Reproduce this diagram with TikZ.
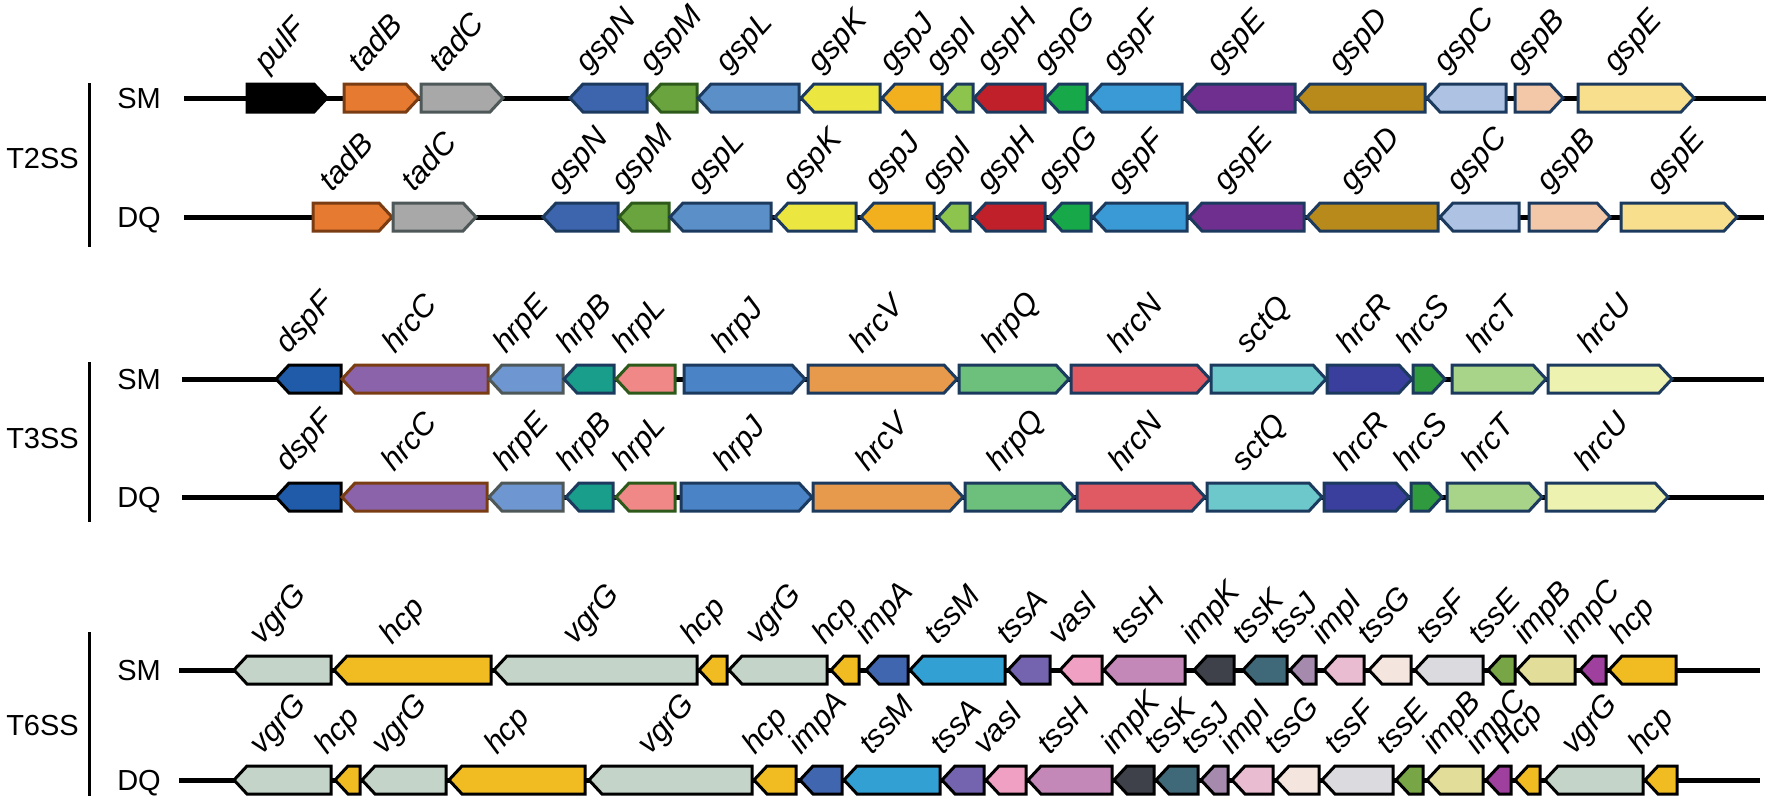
\documentclass[tikz,border=0pt]{standalone}
\usepackage{fontspec}
\setmainfont{Liberation Sans}
\usepackage{xcolor}

% outline colours
\definecolor{navy}{HTML}{1C3A5E}
\definecolor{brn}{HTML}{7A3C12}
\definecolor{dgrey}{HTML}{4E5858}
\definecolor{dgreen}{HTML}{2D5A1A}
% T2SS fills
\definecolor{pulFc}{HTML}{000000}
\definecolor{tadBc}{HTML}{E67A30}
\definecolor{tadCc}{HTML}{A8A8A8}
\definecolor{gspNc}{HTML}{3D65AD}
\definecolor{gspMc}{HTML}{6AA43F}
\definecolor{gspLc}{HTML}{5A8FC8}
\definecolor{gspKc}{HTML}{ECE640}
\definecolor{gspJc}{HTML}{F2B01E}
\definecolor{gspIc}{HTML}{8CC44E}
\definecolor{gspHc}{HTML}{C0202A}
\definecolor{gspGc}{HTML}{17A84A}
\definecolor{gspFc}{HTML}{3A9AD6}
\definecolor{gspEc}{HTML}{6E2F8E}
\definecolor{gspDc}{HTML}{B88A1C}
\definecolor{gspCc}{HTML}{AEC3E4}
\definecolor{gspBc}{HTML}{F2C8A8}
\definecolor{gspEbc}{HTML}{F8DF8E}
% T3SS fills
\definecolor{dspFc}{HTML}{1F5BA8}
\definecolor{hrcCc}{HTML}{8B63AB}
\definecolor{hrpEc}{HTML}{6E96D0}
\definecolor{hrpBc}{HTML}{1A9E8C}
\definecolor{hrpLc}{HTML}{F08888}
\definecolor{hrpJc}{HTML}{4A84C6}
\definecolor{hrcVc}{HTML}{E89A4C}
\definecolor{hrpQc}{HTML}{6CC07C}
\definecolor{hrcNc}{HTML}{E05A64}
\definecolor{sctQc}{HTML}{6CC8CA}
\definecolor{hrcRc}{HTML}{3A3F9E}
\definecolor{hrcSc}{HTML}{2F9A3E}
\definecolor{hrcTc}{HTML}{A8D48A}
\definecolor{hrcUc}{HTML}{EEF2B0}
% T6SS fills
\definecolor{vgrGc}{HTML}{C4D4C8}
\definecolor{hcpc}{HTML}{F0BC22}
\definecolor{impAc}{HTML}{4166B0}
\definecolor{tssMc}{HTML}{33A0D4}
\definecolor{tssAc}{HTML}{7464B0}
\definecolor{vasIc}{HTML}{F0A0C2}
\definecolor{tssHc}{HTML}{C488B8}
\definecolor{impKc}{HTML}{3E404A}
\definecolor{tssKc}{HTML}{3F6878}
\definecolor{tssJc}{HTML}{A68AAE}
\definecolor{impIc}{HTML}{EABCD2}
\definecolor{tssGc}{HTML}{F4E6DE}
\definecolor{tssFc}{HTML}{DADADF}
\definecolor{tssEc}{HTML}{78A646}
\definecolor{impBc}{HTML}{E2DE9A}
\definecolor{impCc}{HTML}{A0409E}

\tikzset{
  backbone/.style={line width=5pt, black},
  genebox/.style={line width=3pt, line join=miter},
  genelab/.style={rotate=48, anchor=base west, inner sep=0pt,
    font=\fontsize{31}{31}\selectfont\itshape},
  strain/.style={anchor=base, inner sep=0pt, font=\fontsize{29}{29}\selectfont},
  sysbar/.style={line width=3pt, black}
}

% backbone of one locus: name, y, start, end
\newcommand{\locus}[4]{%
  \coordinate (#1-a) at (#3,#2);
  \coordinate (#1-b) at (#4,#2);
  \draw[backbone] (#1-a) -- (#1-b);}

% genes of one locus: name, y, tail/head/fill/outline/label list
\newcommand{\genes}[3]{%
  \foreach \xa/\xb/\cf/\cd/\lab [count=\i] in {#3}{%
    \filldraw[genebox, fill=\cf, draw=\cd]
      (\xa,#2+14) -- ({\xb-13*sign(\xb-\xa)},#2+14) -- (\xb,#2)
      -- ({\xb-13*sign(\xb-\xa)},#2-14) -- (\xa,#2-14) -- cycle;
    \node[genelab] (#1-\i) at ({(\xa+\xb)/2-20},#2+24) {\lab};
  }}

\begin{document}
\begin{tikzpicture}[x=1pt,y=1pt]
\useasboundingbox (0,0) rectangle (1775,-806);

%% T2SS
\node[strain, anchor=base east] (t2) at (79,-168) {T2SS};
\draw[sysbar] (89,-83) -- (89,-247);
\node[strain] (t2sm) at (139,-108) {SM};
\node[strain] (t2dq) at (139,-227) {DQ};
\locus{t2s}{-98}{184}{1766}
\genes{t2s}{-98}{247/327/pulFc/black/pulF, 344/419/tadBc/brn/tadB,
  421/503/tadCc/dgrey/tadC, 647/570/gspNc/navy/gspN, 697/648/gspMc/dgreen/gspM,
  799/698/gspLc/navy/gspL, 880/801/gspKc/navy/gspK, 942/882/gspJc/navy/gspJ,
  973/944/gspIc/navy/gspI, 1045/974/gspHc/navy/gspH, 1087/1046/gspGc/navy/gspG,
  1182/1089/gspFc/navy/gspF, 1295/1184/gspEc/navy/gspE, 1425/1297/gspDc/navy/gspD,
  1506/1427/gspCc/navy/gspC, 1515/1563/gspBc/navy/gspB, 1578/1694/gspEbc/navy/gspE}
\locus{t2d}{-217}{184}{1764}
\genes{t2d}{-217}{313/392/tadBc/brn/tadB, 393/476/tadCc/dgrey/tadC,
  618/543/gspNc/navy/gspN, 669/619/gspMc/dgreen/gspM, 771/670/gspLc/navy/gspL,
  856/775/gspKc/navy/gspK, 934/861/gspJc/navy/gspJ, 970/938/gspIc/navy/gspI,
  1045/973/gspHc/navy/gspH, 1091/1049/gspGc/navy/gspG, 1187/1093/gspFc/navy/gspF,
  1304/1189/gspEc/navy/gspE, 1438/1307/gspDc/navy/gspD, 1519/1440/gspCc/navy/gspC,
  1529/1610/gspBc/navy/gspB, 1621/1737/gspEbc/navy/gspE}

%% T3SS
\node[strain, anchor=base east] (t3) at (79,-448) {T3SS};
\draw[sysbar] (89,-362) -- (89,-522);
\node[strain] (t3sm) at (139,-389) {SM};
\node[strain] (t3dq) at (139,-507) {DQ};
\locus{t3s}{-379}{182}{1764}
\genes{t3s}{-379}{341/276/dspFc/black/dspF, 488/342/hrcCc/brn/hrcC,
  563/489/hrpEc/dgrey/hrpE, 614/564/hrpBc/navy/hrpB, 675/616/hrpLc/dgreen/hrpL,
  684/805/hrpJc/navy/hrpJ, 808/957/hrcVc/navy/hrcV, 959/1069/hrpQc/navy/hrpQ,
  1071/1210/hrcNc/navy/hrcN, 1211/1326/sctQc/navy/sctQ, 1327/1412/hrcRc/navy/hrcR,
  1413/1445/hrcSc/navy/hrcS, 1452/1546/hrcTc/navy/hrcT, 1548/1672/hrcUc/navy/hrcU}
\locus{t3d}{-497}{182}{1764}
\genes{t3d}{-497}{341/276/dspFc/black/dspF, 487/342/hrcCc/brn/hrcC,
  563/489/hrpEc/dgrey/hrpE, 613/566/hrpBc/navy/hrpB, 675/616/hrpLc/dgreen/hrpL,
  681/812/hrpJc/navy/hrpJ, 813/963/hrcVc/navy/hrcV, 965/1074/hrpQc/navy/hrpQ,
  1077/1205/hrcNc/navy/hrcN, 1207/1322/sctQc/navy/sctQ, 1324/1409/hrcRc/navy/hrcR,
  1411/1442/hrcSc/navy/hrcS, 1447/1542/hrcTc/navy/hrcT, 1546/1668/hrcUc/navy/hrcU}

%% T6SS
\node[strain, anchor=base east] (t6) at (79,-735) {T6SS};
\draw[sysbar] (89,-632) -- (89,-796);
\node[strain] (t6sm) at (139,-680) {SM};
\node[strain] (t6dq) at (139,-790) {DQ};
\locus{t6s}{-670}{179}{1760}
\genes{t6s}{-670}{331/234/vgrGc/black/vgrG, 491/334/hcpc/black/hcp,
  697/494/vgrGc/black/vgrG, 727/699/hcpc/black/hcp, 827/729/vgrGc/black/vgrG,
  859/831/hcpc/black/hcp, 908/866/impAc/black/impA, 1005/910/tssMc/black/tssM,
  1050/1008/tssAc/black/tssA, 1102/1060/vasIc/black/vasI, 1185/1104/tssHc/black/tssH,
  1234/1194/impKc/black/impK, 1287/1243/tssKc/black/tssK, 1316/1290/tssJc/black/tssJ,
  1364/1324/impIc/black/impI, 1411/1369/tssGc/black/tssG, 1483/1415/tssFc/black/tssF,
  1515/1488/tssEc/black/tssE, 1575/1517/impBc/black/impB, 1606/1580/impCc/black/impC,
  1676/1609/hcpc/black/hcp}
\locus{t6d}{-780}{179}{1760}
\genes{t6d}{-780}{331/234/vgrGc/black/vgrG, 360/335/hcpc/black/hcp,
  446/362/vgrGc/black/vgrG, 585/449/hcpc/black/hcp, 752/589/vgrGc/black/vgrG,
  796/754/hcpc/black/hcp, 842/800/impAc/black/impA, 940/844/tssMc/black/tssM,
  984/942/tssAc/black/tssA, 1026/986/vasIc/black/vasI, 1112/1028/tssHc/black/tssH,
  1154/1114/impKc/black/impK, 1198/1156/tssKc/black/tssK, 1228/1201/tssJc/black/tssJ,
  1273/1232/impIc/black/impI, 1319/1276/tssGc/black/tssG, 1393/1322/tssFc/black/tssF,
  1423/1396/tssEc/black/tssE, 1483/1427/impBc/black/impB, 1511/1486/impCc/black/impC,
  1540/1515/hcpc/black/Hcp, 1643/1545/vgrGc/black/vgrG, 1677/1645/hcpc/black/hcp}
\end{tikzpicture}
\end{document}
